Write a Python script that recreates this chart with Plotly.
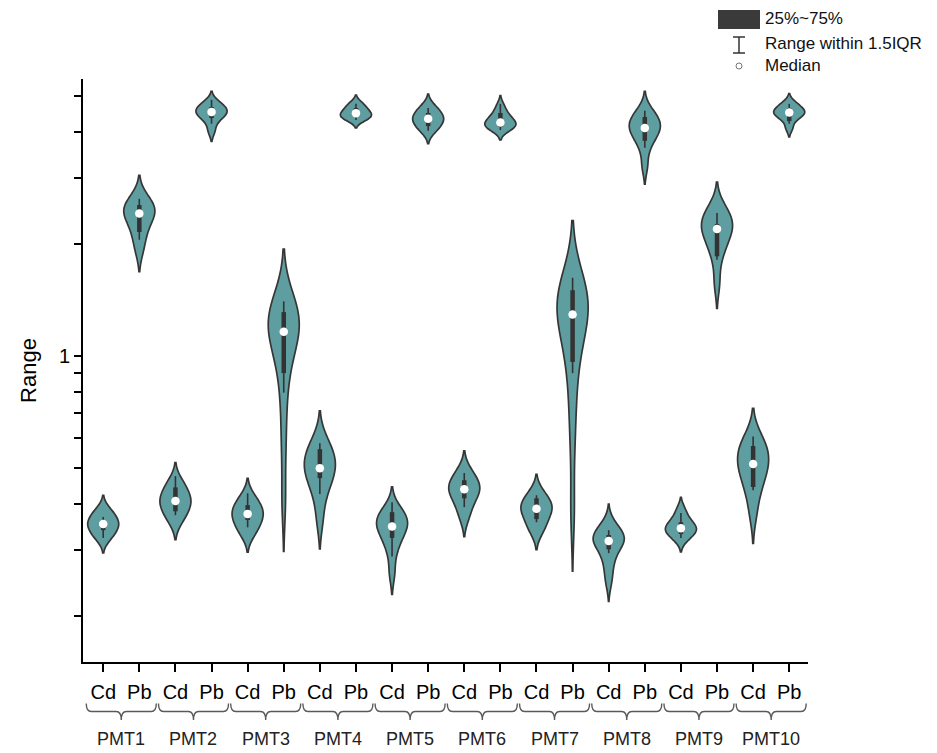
import numpy as np
import plotly.graph_objects as go

# ---------------- data ----------------
groups = ["PMT1", "PMT2", "PMT3", "PMT4", "PMT5", "PMT6", "PMT7", "PMT8", "PMT9", "PMT10"]
elements = ["Cd", "Pb"]

# sample values ("Range") per violin
pmt1_cd = [0.388, 0.376, 0.366, 0.359, 0.353, 0.347, 0.340, 0.331, 0.321]
pmt1_pb = [2.66, 2.57, 2.50, 2.45, 2.41, 2.35, 2.23, 2.10, 1.93]
pmt2_cd = [0.462, 0.443, 0.428, 0.415, 0.407, 0.398, 0.387, 0.374, 0.358]
pmt2_pb = [4.81, 4.71, 4.62, 4.56, 4.52, 4.46, 4.38, 4.27, 4.02]
pmt3_cd = [0.421, 0.404, 0.392, 0.381, 0.376, 0.366, 0.355, 0.344, 0.330]
pmt3_pb = [1.41, 1.36, 1.32, 1.29, 1.26, 1.22, 1.19, 1.16, 1.12, 1.06, 0.986, 0.882, 0.737, 0.575, 0.409]
pmt4_cd = [0.595, 0.568, 0.548, 0.528, 0.512, 0.499, 0.487, 0.469, 0.446, 0.417, 0.362]
pmt4_pb = [4.78, 4.69, 4.60, 4.53, 4.48, 4.44, 4.38, 4.34, 4.30]
pmt5_cd = [0.389, 0.378, 0.368, 0.362, 0.355, 0.348, 0.340, 0.330, 0.316, 0.297, 0.261]
pmt5_pb = [4.70, 4.57, 4.47, 4.39, 4.33, 4.27, 4.19, 4.10, 3.99]
pmt6_cd = [0.493, 0.472, 0.456, 0.445, 0.438, 0.427, 0.414, 0.394, 0.368]
pmt6_pb = [4.69, 4.49, 4.38, 4.30, 4.23, 4.18, 4.14, 4.11, 4.05]
pmt7_cd = [0.431, 0.414, 0.402, 0.393, 0.388, 0.378, 0.364, 0.351, 0.336]
pmt7_pb = [1.58, 1.53, 1.48, 1.44, 1.40, 1.36, 1.33, 1.29, 1.22, 1.13, 1.04, 0.915, 0.760, 0.593, 0.385]
pmt8_cd = [0.357, 0.346, 0.338, 0.332, 0.328, 0.324, 0.321, 0.318, 0.314, 0.308, 0.300,
           0.290, 0.278, 0.262, 0.245]
pmt8_pb = [4.58, 4.44, 4.33, 4.23, 4.16, 4.09, 4.02, 3.92, 3.80, 3.62, 3.24]
pmt9_cd = [0.387, 0.368, 0.357, 0.351, 0.344, 0.340, 0.336, 0.330, 0.320]
pmt9_pb = [2.50, 2.43, 2.35, 2.29, 2.23, 2.19, 2.14, 2.06, 1.96, 1.84, 1.57]
pmt10_cd = [0.600, 0.586, 0.565, 0.544, 0.528, 0.512, 0.496, 0.478, 0.455, 0.425, 0.377]
pmt10_pb = [4.79, 4.69, 4.60, 4.55, 4.50, 4.46, 4.40, 4.31, 4.09]

# box (25%~75%) and whisker (range within 1.5IQR) values, in category order
q1_values = [0.340, 2.15, 0.382, 4.35, 0.362, 0.898, 0.469, 4.38, 0.324, 4.14,
             0.414, 4.12, 0.364, 0.962, 0.302, 3.78, 0.332, 1.85, 0.444, 4.27]
q3_values = [0.359, 2.54, 0.443, 4.66, 0.397, 1.31, 0.561, 4.63, 0.380, 4.49,
             0.463, 4.49, 0.414, 1.50, 0.330, 4.38, 0.357, 2.26, 0.572, 4.63]
whisker_lo = [0.324, 2.05, 0.373, 4.20, 0.346, 0.796, 0.425, 4.30, 0.289, 4.02,
              0.392, 4.04, 0.357, 0.898, 0.295, 3.62, 0.324, 1.81, 0.435, 4.20]
whisker_hi = [0.369, 2.64, 0.475, 4.87, 0.427, 1.40, 0.582, 4.75, 0.404, 4.63,
              0.484, 4.75, 0.422, 1.62, 0.340, 4.55, 0.378, 2.42, 0.607, 4.75]

y_tick_values = [0.2, 0.3, 0.4, 0.5, 0.6, 0.7, 0.8, 0.9, 1, 2, 3, 4, 5]
y_tick_labels = ["", "", "", "", "", "", "", "", "1", "", "", "", ""]
y_limits = [0.1504, 5.54]

legend_labels = ["25%~75%", "Range within 1.5IQR", "Median"]

# ---------------- figure ----------------
samples = [pmt1_cd, pmt1_pb, pmt2_cd, pmt2_pb, pmt3_cd, pmt3_pb, pmt4_cd, pmt4_pb,
           pmt5_cd, pmt5_pb, pmt6_cd, pmt6_pb, pmt7_cd, pmt7_pb, pmt8_cd, pmt8_pb,
           pmt9_cd, pmt9_pb, pmt10_cd, pmt10_pb]
categories = [e for g in groups for e in elements]
positions = list(range(len(categories)))

FILL = "#5f9ea0"
EDGE = "#363636"
DARK = "#333333"
FONT = "Liberation Sans, Arial, sans-serif"

fig = go.Figure()
for i, s in enumerate(samples):
    fig.add_trace(go.Violin(
        x=[i] * len(s), y=np.log10(s), width=0.86, points=False,
        fillcolor=FILL, line=dict(color=EDGE, width=1.7),
        box_visible=False, meanline_visible=False, spanmode="soft",
        scalemode="width", showlegend=False, hoverinfo="skip", opacity=1,
    ))

wx, wy, bx, by = [], [], [], []
for i in positions:
    wx += [i, i, None]
    wy += [np.log10(whisker_lo[i]), np.log10(whisker_hi[i]), None]
    bx += [i, i, None]
    by += [np.log10(q1_values[i]), np.log10(q3_values[i]), None]
fig.add_trace(go.Scatter(x=wx, y=wy, mode="lines", line=dict(color=DARK, width=1.6),
                         showlegend=False, hoverinfo="skip"))
fig.add_trace(go.Scatter(x=bx, y=by, mode="lines", line=dict(color=DARK, width=4.5),
                         showlegend=False, hoverinfo="skip"))
medians = [float(np.median(s)) for s in samples]
fig.add_trace(go.Scatter(x=positions, y=np.log10(medians), mode="markers",
                         marker=dict(color="white", size=8.5, line=dict(width=0)),
                         showlegend=False, hoverinfo="skip"))

# geometry helpers (plot area in pixels)
L, R, T, B = 83, 808, 79, 662
W, H = R - L, B - T


def px_x(px):
    return (px - L) / W


def px_y(py):
    return (B - py) / H


shapes = []
annotations = []

# group braces under the category labels
y_top, y_mid, y_bot = px_y(703.5), px_y(711.5), px_y(720)
d = 0.14
for g, name in enumerate(groups):
    x0 = 2 * g - 0.47
    x1 = 2 * g + 1.47
    xc = 2 * g + 0.5
    path = (f"M {x0},{y_top} Q {x0},{y_mid} {x0 + d},{y_mid} L {xc - d},{y_mid} "
            f"Q {xc},{y_mid} {xc},{y_bot} Q {xc},{y_mid} {xc + d},{y_mid} "
            f"L {x1 - d},{y_mid} Q {x1},{y_mid} {x1},{y_top}")
    shapes.append(dict(type="path", path=path, xref="x", yref="paper",
                       line=dict(color="#5a5a5a", width=1.4)))
    annotations.append(dict(x=xc, y=px_y(739), xref="x", yref="paper", text=name,
                            showarrow=False, xanchor="center", yanchor="middle",
                            font=dict(family=FONT, size=18, color="#222222")))

# custom legend (top right)
shapes.append(dict(type="rect", xref="paper", yref="paper",
                   x0=px_x(718), x1=px_x(760), y0=px_y(29), y1=px_y(10),
                   fillcolor="#3a3a3a", line=dict(width=0)))
bxc = px_x(739)
shapes.append(dict(type="line", xref="paper", yref="paper", x0=bxc, x1=bxc,
                   y0=px_y(53), y1=px_y(37), line=dict(color=DARK, width=1.5)))
for yy in (37, 53):
    shapes.append(dict(type="line", xref="paper", yref="paper", x0=px_x(733), x1=px_x(745),
                       y0=px_y(yy), y1=px_y(yy), line=dict(color=DARK, width=1.5)))
shapes.append(dict(type="circle", xref="paper", yref="paper",
                   x0=px_x(736), x1=px_x(742), y0=px_y(69), y1=px_y(63),
                   fillcolor="white", line=dict(color="#777777", width=1)))
for label, yy in zip(legend_labels, (19, 44, 66)):
    annotations.append(dict(x=px_x(763), y=px_y(yy), xref="paper", yref="paper", text=label,
                            showarrow=False, xanchor="left", yanchor="middle",
                            font=dict(family=FONT, size=17, color="#111111")))

fig.update_layout(
    width=937, height=753,
    margin=dict(l=L, r=937 - R, t=T, b=753 - B, autoexpand=False),
    plot_bgcolor="white", paper_bgcolor="white",
    violinmode="overlay", showlegend=False,
    font=dict(family=FONT, color="black"),
    shapes=shapes, annotations=annotations,
    xaxis=dict(
        range=[-0.56, 19.52], tickmode="array", tickvals=positions, ticktext=categories,
        ticks="outside", ticklen=8, tickwidth=1.5, tickcolor="black",
        showline=True, linewidth=2, linecolor="black", ticklabelstandoff=3,
        showgrid=False, zeroline=False, tickfont=dict(size=20, color="black"),
    ),
    yaxis=dict(
        range=list(np.log10(y_limits)), tickmode="array",
        tickvals=list(np.log10(y_tick_values)), ticktext=y_tick_labels,
        ticks="outside", ticklen=7, tickwidth=1.5, tickcolor="black",
        showline=True, linewidth=2, linecolor="black",
        showgrid=False, zeroline=False, tickfont=dict(size=20, color="black"),
        title=dict(text="Range", font=dict(size=22, color="black"), standoff=16),
    ),
)

fig.write_html("out.html", config={"displayModeBar": False},
               post_script="document.body.style.margin='0';document.body.style.overflow='hidden';")
